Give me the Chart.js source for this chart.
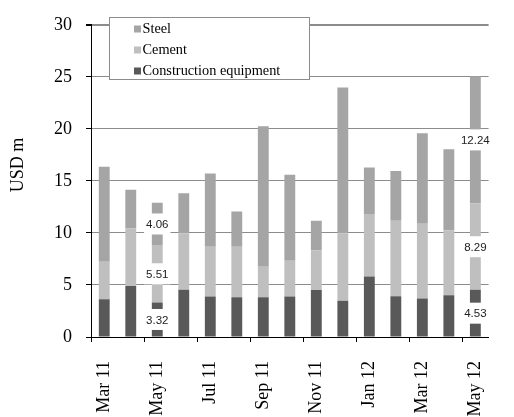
<!DOCTYPE html>
<html>
<head>
<meta charset="utf-8">
<script src="https://cdn.jsdelivr.net/npm/chart.js@4/dist/chart.umd.min.js"></script>
<style>
  html, body { margin: 0; padding: 0; background: #fff; overflow: hidden; }
  #wrap { width: 516px; height: 417px; }
</style>
</head>
<body>
<div id="wrap"><canvas id="grafico"></canvas></div>
<script>
// Dados
const meses = ['Mar 11', 'Apr 11', 'May 11', 'Jun 11', 'Jul 11', 'Aug 11', 'Sep 11', 'Oct 11',
  'Nov 11', 'Dec 11', 'Jan 12', 'Feb 12', 'Mar 12', 'Apr 12', 'May 12'];
const equipamento = [3.63, 4.89, 3.32, 4.55, 3.88, 3.82, 3.82, 3.88, 4.52, 3.48, 5.82, 3.91, 3.69, 4.00, 4.53];
const cimento = [3.60, 5.54, 5.51, 5.42, 4.80, 4.86, 2.92, 3.44, 3.79, 6.49, 6.00, 7.26, 7.20, 6.25, 8.29];
const aco = [9.14, 3.72, 4.06, 3.85, 7.04, 3.38, 13.51, 8.28, 2.86, 14.00, 4.46, 4.77, 8.68, 7.78, 12.24];
const ticksY = [0, 5, 10, 15, 20, 25, 30];
// meses com rótulos de valor
const mesesRotulados = ['May 11', 'May 12'];
const tituloY = 'USD m';

const serif = "'Liberation Serif', 'Times New Roman', serif";

// Rótulos de valor com fundo branco
const pluginRotulos = {
  id: 'rotulos',
  afterDatasetsDraw(chart) {
    const ctx = chart.ctx;
    ctx.save();
    ctx.font = "11.5px 'Liberation Sans', Arial, sans-serif";
    ctx.textAlign = 'center';
    ctx.textBaseline = 'middle';
    chart.data.datasets.forEach((ds, d) => {
      const meta = chart.getDatasetMeta(d);
      mesesRotulados.forEach(m => {
        const i = chart.data.labels.indexOf(m);
        const bar = meta.data[i];
        const y = (bar.y + bar.base) / 2;
        const texto = ds.data[i].toFixed(2);
        const w = ctx.measureText(texto).width + 4;
        ctx.fillStyle = '#fff';
        ctx.fillRect(bar.x - w / 2, y - 10.5, w, 21);
        ctx.fillStyle = '#222';
        ctx.fillText(texto, bar.x, y + 1);
      });
    });
    ctx.restore();
  }
};

// Legenda com caixa dentro da área do gráfico + título do eixo Y
const pluginLegenda = {
  id: 'legendaCaixa',
  afterDatasetsDraw(chart) {
    const ctx = chart.ctx;
    const x0 = chart.chartArea.left + 18.5, y0 = 17.5;
    ctx.save();
    ctx.fillStyle = '#fff';
    ctx.fillRect(x0, y0, 200, 62);
    ctx.strokeStyle = '#8c8c8c';
    ctx.lineWidth = 1;
    ctx.strokeRect(x0, y0, 200, 62);
    ctx.font = '14.3px ' + serif;
    ctx.textBaseline = 'middle';
    const itens = chart.data.datasets.slice().reverse();
    itens.forEach((ds, k) => {
      const cy = 29 + k * 21;
      ctx.fillStyle = ds.backgroundColor;
      ctx.fillRect(134, cy - 3.5, 7, 7);
      ctx.fillStyle = '#000';
      ctx.fillText(ds.label, 142.5, cy);
    });

    // título do eixo Y
    ctx.translate(18, 165);
    ctx.rotate(-Math.PI / 2);
    ctx.font = '18px ' + serif;
    ctx.textAlign = 'center';
    ctx.fillText(tituloY, 0, 0);
    ctx.restore();
  }
};

new Chart(document.getElementById('grafico'), {
  type: 'bar',
  data: {
    labels: meses,
    datasets: [
      { label: 'Construction equipment', data: equipamento, backgroundColor: '#595959' },
      { label: 'Cement', data: cimento, backgroundColor: '#bfbfbf' },
      { label: 'Steel', data: aco, backgroundColor: '#a5a5a5' }
    ]
  },
  options: {
    responsive: true,
    maintainAspectRatio: false,
    animation: false,
    layout: { padding: { top: 12, right: 1, left: 0, bottom: 0 } },
    datasets: { bar: { categoryPercentage: 0.41, barPercentage: 1 } },
    plugins: {
      legend: { display: false },
      tooltip: { enabled: false }
    },
    scales: {
      x: {
        stacked: true,
        afterFit: s => { s.height = 80; },
        border: { color: '#000', width: 1 },
        grid: {
          drawOnChartArea: false,
          tickLength: 5,
          color: c => (c.index % 2 === 0 ? '#000' : 'rgba(0,0,0,0)')
        },
        ticks: {
          autoSkip: false,
          minRotation: 90,
          maxRotation: 90,
          padding: 19,
          color: '#000',
          font: { family: serif, size: 18 },
          callback: (v, i) => (i % 2 === 0 ? meses[i] : '')
        }
      },
      y: {
        stacked: true,
        min: 0,
        max: 30,
        afterFit: s => { s.width = 91; },
        afterBuildTicks: s => { s.ticks = ticksY.map(v => ({ value: v })); },
        border: { color: '#000', width: 1 },
        grid: {
          color: '#8c8c8c',
          tickColor: '#000',
          tickLength: 5,
          lineWidth: c => (c.tick && c.tick.value === 30 ? 2 : 1)
        },
        ticks: {
          padding: 14,
          color: '#000',
          font: { family: serif, size: 18 }
        }
      }
    }
  },
  plugins: [pluginRotulos, pluginLegenda]
});
</script>
</body>
</html>
